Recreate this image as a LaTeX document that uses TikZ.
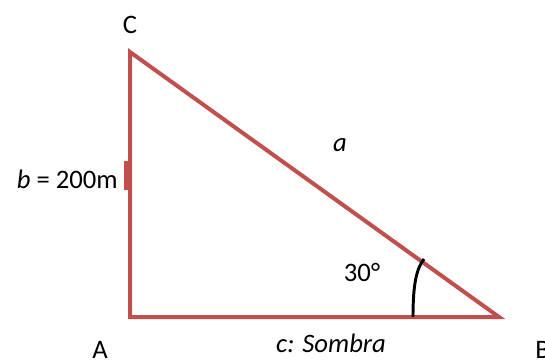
\documentclass[tikz,border=0pt]{standalone}
\usepackage{fontspec}
\setmainfont{Carlito}
\definecolor{sidered}{RGB}{192,80,77}
\begin{document}
\begin{tikzpicture}[x=0.75pt, y=-0.75pt,
    side/.style={draw=sidered, line width=3pt},
    lbl/.style={font=\fontsize{20}{24}\selectfont, inner sep=0pt}]
        \useasboundingbox (0,0) rectangle (545,363);
        % ---- vertices ----
        \coordinate (A) at (130,317);
        \coordinate (B) at (499,317);
        \coordinate (C) at (130,52);
        % ---- triangle ----
        \draw[side] (A) -- (B) -- (C) -- cycle;
        % ---- tick on side b ----
        \fill[sidered] (124,161) rectangle (130,190);
        % ---- angle mark at B ----
        \coordinate (arcbot) at (413,317);
        \coordinate (arctop) at (424,259);
        \draw[black, line width=2.2pt] (arcbot) .. controls (413,286) and (416,269) .. (arctop);
        % ---- labels ----
        \node[lbl] (labC) at (130,25) {C};
        \node[lbl] (labA) at (100,350) {A};
        \node[lbl, anchor=west] (labB) at (535,350) {B};
        \node[lbl] (laba) at (340,145) {\textit{a}};
        \node[lbl, anchor=east] (labb) at (118,179) {\textit{b} = 200m};
        \node[lbl] (labang) at (362,272) {30°};
        \node[lbl] (labc) at (331,343) {\textit{c: Sombra}};
    \end{tikzpicture}
\end{document}
